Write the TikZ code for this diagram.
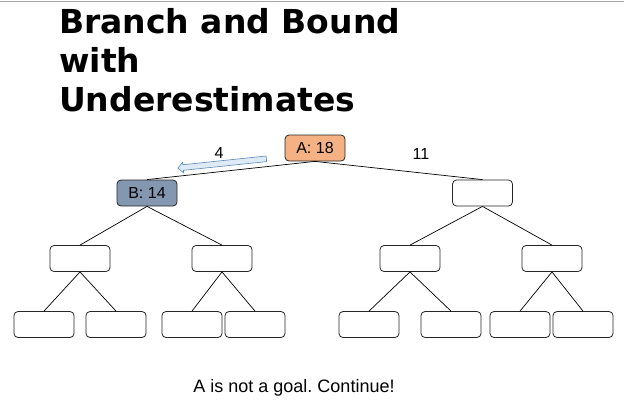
\documentclass[tikz,border=0pt]{standalone}
\usepackage{fontspec}
\setmainfont{Liberation Sans}
\newfontfamily\titlefont{DejaVu Sans}
\usetikzlibrary{shapes.arrows}
\frenchspacing
\definecolor{nodeA}{HTML}{F4B183}
\definecolor{nodeB}{HTML}{8497B0}
\definecolor{hintfill}{HTML}{DEEBF7}
\definecolor{hintline}{HTML}{5B87B5}
\tikzset{
  treebox/.style={draw=black!85, line width=0.8pt, rounded corners=4pt,
    minimum width=60pt, minimum height=26pt, inner sep=0pt, fill=white,
    font=\fontsize{16}{18}\selectfont},
  branch/.style={draw=black, line width=0.7pt},
  titleline/.style={anchor=base west, inner sep=0pt,
    font=\titlefont\bfseries\fontsize{33}{39}\selectfont},
  cost/.style={inner sep=0pt, font=\fontsize{16}{18}\selectfont},
}
\begin{document}
\begin{tikzpicture}[x=1pt,y=-1pt]
\useasboundingbox (0,0) rectangle (624,402);
\draw[black!35, line width=1pt] (0,1) -- (624,1);

% title
\node[titleline] (title1) at (59,33) {Branch and Bound};
\node[titleline] (title2) at (59,72) {with};
\node[titleline] (title3) at (59,111) {Underestimates};

% root and first level
\node[treebox, fill=nodeA] (a) at (315,148) {A: 18};
\node[treebox, fill=nodeB] (b) at (147,193) {B: 14};
\node[treebox] (c) at (482.5,193) {};

% second level
\node[treebox] (b1) at (80,258.5) {};
\node[treebox] (b2) at (222,258.5) {};
\node[treebox] (c1) at (410,258.5) {};
\node[treebox] (c2) at (552,258.5) {};

% leaves
\node[treebox] (b11) at (44,324.5) {};
\node[treebox] (b12) at (116,324.5) {};
\node[treebox] (b21) at (192,324.5) {};
\node[treebox] (b22) at (255,324.5) {};
\node[treebox] (c11) at (369,324.5) {};
\node[treebox] (c12) at (451,324.5) {};
\node[treebox] (c21) at (520,324.5) {};
\node[treebox] (c22) at (583,324.5) {};

% branches
\draw[branch] (a.south) -- (b.north);
\draw[branch] (a.south) -- (c.north);
\foreach \p/\l/\r in {b/b1/b2, c/c1/c2, b1/b11/b12, b2/b21/b22, c1/c11/c12, c2/c21/c22}{
  \draw[branch] (\p.south) -- (\l.north);
  \draw[branch] (\p.south) -- (\r.north);
}

% edge costs
\node[cost] (w4) at (219,153) {4};
\node[cost] (w11) at (421,154) {11};

% direction hint
\node[single arrow, draw=hintline, fill=hintfill, line width=0.6pt,
  minimum height=89pt, inner xsep=0pt, inner ysep=2.5pt,
  single arrow head extend=2.5pt, single arrow tip angle=90,
  rotate=186] (hint) at (223.5,163.3) {};

% status line
\node[font=\fontsize{18}{20}\selectfont, anchor=base, inner sep=0pt] (status) at (294,392) {A is not a goal. Continue!};
\end{tikzpicture}
\end{document}
